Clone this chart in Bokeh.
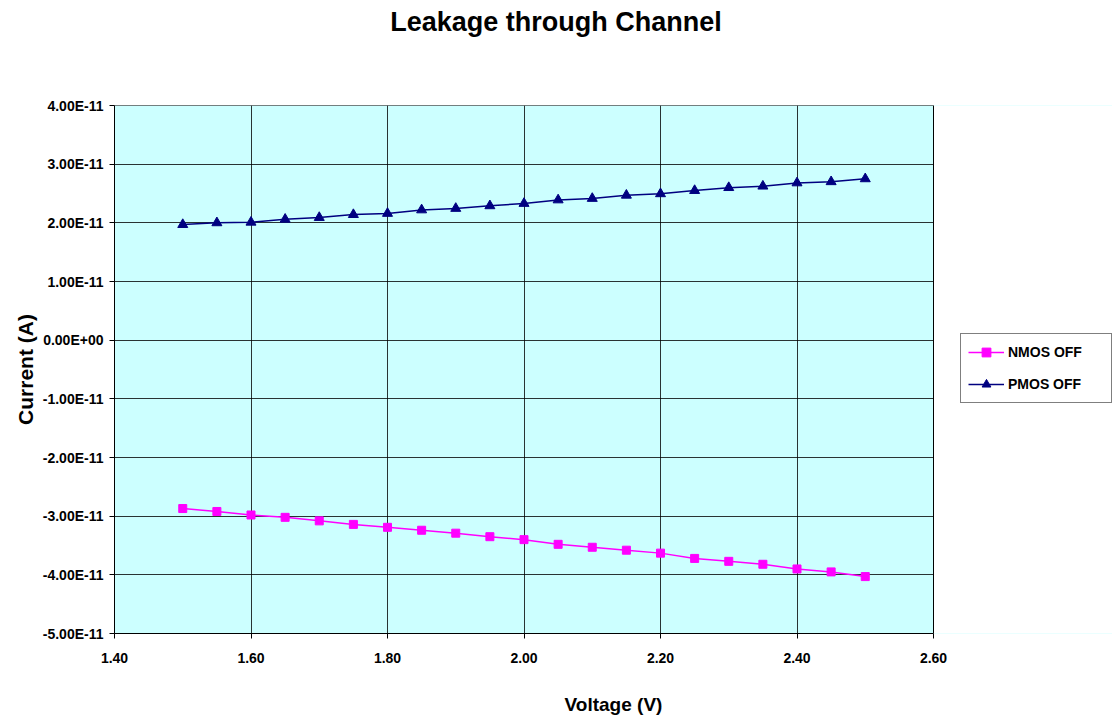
from bokeh.plotting import figure
from bokeh.models import (FixedTicker, Legend, LegendItem, ColumnDataSource,
                          BoxAnnotation, Div)
from bokeh.layouts import column
from bokeh.embed import file_html
from bokeh.resources import INLINE

voltage = [1.50, 1.55, 1.60, 1.65, 1.70, 1.75, 1.80, 1.85, 1.90, 1.95, 2.00,
           2.05, 2.10, 2.15, 2.20, 2.25, 2.30, 2.35, 2.40, 2.45, 2.50]
nmos_off = [-2.87e-11, -2.92e-11, -2.98e-11, -3.02e-11, -3.08e-11, -3.14e-11,
            -3.19e-11, -3.24e-11, -3.29e-11, -3.35e-11, -3.40e-11, -3.48e-11,
            -3.53e-11, -3.58e-11, -3.63e-11, -3.72e-11, -3.77e-11, -3.82e-11,
            -3.90e-11, -3.95e-11, -4.03e-11]
pmos_off = [1.97e-11, 2.00e-11, 2.01e-11, 2.06e-11, 2.09e-11, 2.14e-11,
            2.16e-11, 2.22e-11, 2.245e-11, 2.29e-11, 2.33e-11, 2.39e-11,
            2.415e-11, 2.47e-11, 2.495e-11, 2.55e-11, 2.60e-11, 2.625e-11,
            2.68e-11, 2.70e-11, 2.75e-11]

x_ticks = [1.40, 1.60, 1.80, 2.00, 2.20, 2.40, 2.60]
x_tick_labels = ["1.40", "1.60", "1.80", "2.00", "2.20", "2.40", "2.60"]
y_ticks = [4e-11, 3e-11, 2e-11, 1e-11, 0.0, -1e-11, -2e-11, -3e-11, -4e-11, -5e-11]
y_tick_labels = ["4.00E-11", "3.00E-11", "2.00E-11", "1.00E-11", "0.00E+00",
                 "-1.00E-11", "-2.00E-11", "-3.00E-11", "-4.00E-11", "-5.00E-11"]
title_text = "Leakage through Channel"

FONT = "Liberation Sans"
X_MIN, X_MAX = 1.40, 2.60
# frame extends right to hold the legend; plot area ends at X_MAX
X_VIEW_END = X_MIN + (X_MAX - X_MIN) * 998 / 819

title_div = Div(text=title_text, width=1112, height=44, margin=(0, 0, 0, 0),
                styles={"text-align": "center", "font-family": FONT,
                        "font-weight": "bold", "font-size": "27px",
                        "line-height": "44px", "color": "black",
                        "width": "1112px"})

p = figure(frame_width=998, frame_height=528, output_backend="svg",
           toolbar_location=None,
           x_range=(X_MIN, X_VIEW_END), y_range=(-5e-11, 4e-11),
           min_border_left=114, min_border_right=0, min_border_top=61,
           min_border_bottom=88, margin=(0, 0, 0, 0))
p.background_fill_color = "#CCFFFF"
p.border_fill_color = "white"
p.outline_line_color = None

p.xaxis.ticker = FixedTicker(ticks=x_ticks)
p.yaxis.ticker = FixedTicker(ticks=y_ticks)
p.xaxis.bounds = (X_MIN, X_MAX)
p.xaxis.major_label_overrides = {t: l for t, l in zip(x_ticks, x_tick_labels)}
p.yaxis.major_label_overrides = {t: l for t, l in zip(y_ticks, y_tick_labels)}
for ax in (p.xaxis, p.yaxis):
    ax.minor_tick_line_color = None
    ax.major_tick_out = 5
    ax.major_tick_in = 0
    ax.axis_line_color = "black"
    ax.major_tick_line_color = "black"
    ax.major_label_text_font = FONT
    ax.major_label_text_font_style = "bold"
    ax.major_label_text_font_size = "14px"
    ax.major_label_text_color = "black"
    ax.axis_label_text_font = FONT
    ax.axis_label_text_font_style = "bold"
    ax.axis_label_text_color = "black"
p.yaxis.major_label_standoff = 6
p.xaxis.major_label_standoff = 14
p.xaxis.axis_label = "Voltage (V)"
p.xaxis.axis_label_text_font_size = "19px"
p.xaxis.axis_label_standoff = 28
p.xaxis.axis_label_text_align = "right"
p.yaxis.axis_label = "Current (A)"
p.yaxis.axis_label_text_font_size = "21px"
p.yaxis.axis_label_standoff = 3

p.xgrid.grid_line_color = "black"
p.ygrid.grid_line_color = "black"
p.xgrid.grid_line_alpha = 0.8
p.ygrid.grid_line_alpha = 0.8

# blank out the area right of the plot (legend area) and draw the plot border
p.add_layout(BoxAnnotation(left=X_MAX, fill_color="white", fill_alpha=1,
                           line_color=None))
p.add_layout(BoxAnnotation(right=X_MAX, fill_color=None, fill_alpha=0,
                           line_color="black", line_width=1, line_alpha=1))

src = ColumnDataSource(dict(v=voltage, n=nmos_off, pm=pmos_off))
ln = p.line("v", "n", source=src, line_color="#FF00FF", line_width=1.5)
mn = p.scatter("v", "n", source=src, marker="square", size=8,
               fill_color="#FF00FF", line_color="#FF00FF")
lp = p.line("v", "pm", source=src, line_color="#000080", line_width=1.5)
mp = p.scatter("v", "pm", source=src, marker="triangle", size=10,
               fill_color="#000080", line_color="#000080")

legend = Legend(items=[LegendItem(label="NMOS OFF", renderers=[ln, mn]),
                       LegendItem(label="PMOS OFF", renderers=[lp, mp])],
                location=(846, 230), orientation="vertical",
                label_text_font=FONT, label_text_font_style="bold",
                label_text_font_size="14px", label_text_color="black",
                border_line_color="black", border_line_width=1,
                background_fill_color="white", background_fill_alpha=1,
                glyph_width=36, glyph_height=22, spacing=10, padding=7,
                label_width=96, margin=0, label_standoff=4)
p.add_layout(legend, "center")

layout = column(title_div, p, spacing=0, margin=(0, 0, 0, 0))
open("out.html", "w").write(file_html(layout, INLINE))
